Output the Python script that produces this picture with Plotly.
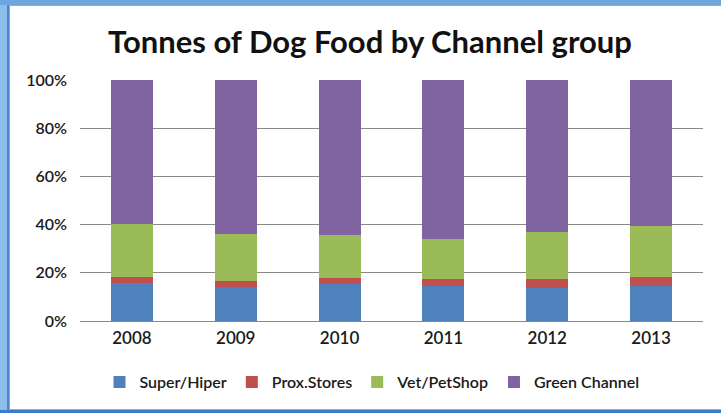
import plotly.graph_objects as go

years = ["2008", "2009", "2010", "2011", "2012", "2013"]
super_hiper = [15.6, 14.1, 15.5, 14.5, 13.6, 14.5]
prox_stores = [2.5, 2.6, 2.2, 2.8, 3.7, 3.6]
vet_petshop = [22.0, 19.4, 18.0, 16.9, 19.6, 21.2]
green_channel = [59.9, 63.9, 64.3, 65.8, 63.1, 60.7]

series = [
    ("Super/Hiper", super_hiper, "#4F81BD"),
    ("Prox.Stores", prox_stores, "#C0504D"),
    ("Vet/PetShop", vet_petshop, "#9BBB59"),
    ("Green Channel", green_channel, "#8064A2"),
]

W, H = 721, 413
L, R, T, B = 80, 18, 80, 92
pw, ph = W - L - R, H - T - B

def px(x):
    return (x - L) / pw

def py(y):
    return (H - B - y) / ph

fig = go.Figure()
for name, vals, col in series:
    fig.add_trace(go.Bar(x=years, y=vals, name=name, marker=dict(color=col, line=dict(width=0))))

FONT = "Lato"
shapes = [
    dict(type="rect", xref="paper", yref="paper", x0=px(0), x1=px(7), y0=py(413), y1=py(0),
         fillcolor="#8CBEEC", line=dict(width=0), layer="below"),
    dict(type="rect", xref="paper", yref="paper", x0=px(7), x1=px(9), y0=py(413), y1=py(0),
         fillcolor="#4A86CF", line=dict(width=0), layer="below"),
    dict(type="rect", xref="paper", yref="paper", x0=px(9), x1=px(10), y0=py(409), y1=py(6),
         fillcolor="#A8A8A8", line=dict(width=0), layer="below"),
    dict(type="rect", xref="paper", yref="paper", x0=px(0), x1=px(721), y0=py(5), y1=py(0),
         fillcolor="#6EA6E0", line=dict(width=0), layer="below"),
    dict(type="rect", xref="paper", yref="paper", x0=px(9), x1=px(721), y0=py(6), y1=py(5),
         fillcolor="#A8A8A8", line=dict(width=0), layer="below"),
    dict(type="rect", xref="paper", yref="paper", x0=px(9), x1=px(721), y0=py(410), y1=py(409),
         fillcolor="#A8A8A8", line=dict(width=0), layer="below"),
    dict(type="rect", xref="paper", yref="paper", x0=px(0), x1=px(721), y0=py(413), y1=py(410),
         fillcolor="#3F7CC8", line=dict(width=0), layer="below"),
]

fig.update_layout(
    width=W, height=H,
    margin=dict(l=L, r=R, t=T, b=B),
    barmode="stack",
    bargap=0.595,
    paper_bgcolor="white",
    plot_bgcolor="white",
    font=dict(family=FONT, color="#1a1a1a", size=14),
    title=dict(text="Tonnes of Dog Food by Channel group", x=370 / W, xanchor="center",
               y=1 - 42 / H, yanchor="middle",
               font=dict(family=FONT, size=31, weight="bold", color="#111111")),
    xaxis=dict(showgrid=False, showline=False, ticks="", tickfont=dict(size=17, weight=600),
               ticklabelstandoff=5),
    yaxis=dict(range=[0, 100], dtick=20, ticksuffix="%", showgrid=True, gridcolor="#888888",
               gridwidth=1, zeroline=True, zerolinecolor="#888888", zerolinewidth=1,
               showline=False, ticks="", tickfont=dict(size=16, weight=600), ticklabelstandoff=12),
    legend=dict(orientation="h", x=px(372), xanchor="center", y=py(382), yanchor="middle",
                font=dict(size=16, weight=600), traceorder="normal", itemwidth=30),
    shapes=shapes,
)

fig.write_html("out.html")
